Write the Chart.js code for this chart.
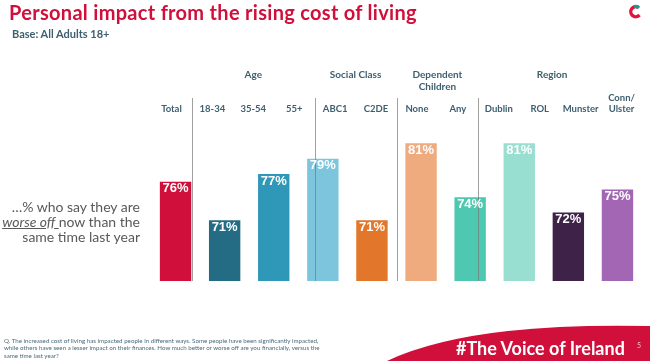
<!DOCTYPE html>
<html>
<head>
<meta charset="utf-8">
<script src="https://cdn.jsdelivr.net/npm/chart.js@4"></script>
<style>
  body { margin: 0; background: #fff; font-family: Lato, "Open Sans", sans-serif; }
  #wrap { position: relative; width: 650px; height: 361px; overflow: hidden; }
  #chartBox { position: absolute; left: 0; top: 0; width: 650px; height: 361px; }
  .title { position: absolute; left: 9px; top: 0px; font-size: 20px; line-height: 24px; font-weight: 700; color: #d0103a; letter-spacing: 0.3px; white-space: nowrap; }
  .base { position: absolute; left: 12px; top: 27px; font-size: 11px; font-weight: 700; color: #3d5f6f; }
  .side { position: absolute; right: 510px; top: 199px; text-align: right; font-size: 14px; line-height: 15px; color: #595959; }
  .side u { font-style: italic; }
  .q { position: absolute; left: 4px; top: 337px; font-size: 6.2px; line-height: 7.4px; color: #4a6a7a; white-space: nowrap; }
  .tag { position: absolute; left: 456px; top: 338px; font-size: 18px; line-height: 21px; font-weight: 700; color: #fff; white-space: nowrap; }
  .pg { position: absolute; left: 637px; top: 341px; font-size: 7px; color: #f3c0c8; }
  svg { position: absolute; left: 0; top: 0; }
</style>
</head>
<body>
<div id="wrap">
  <svg width="650" height="361">
    <path d="M387 361 Q470 322 650 326 L650 361 Z" fill="#d0103a"/>
    <path d="M638.5 7.5 A5 5 0 1 0 639.5 15" fill="none" stroke="#e0143c" stroke-width="3.4"/>
    <path d="M634 6.6 A5 5 0 0 1 639 8" fill="none" stroke="#1e9a8c" stroke-width="3.4"/>
  </svg>
  <div id="chartBox"><canvas id="barchart"></canvas></div>
  <div class="title">Personal impact from the rising cost of living</div>
  <div class="base">Base: All Adults 18+</div>
  <div class="side">…% who say they are<br><u>worse off </u>now than the<br>same time last year</div>
  <div class="q">Q. The increased cost of living has impacted people in different ways. Some people have been significantly impacted,<br>while others have seen a lesser impact on their finances. How much better or worse off are you financially, versus the<br>same time last year?</div>
  <div class="tag">#The Voice of Ireland</div>
  <div class="pg">5</div>
</div>
<script>
// bar values as they appear left to right
var bars = ['b1', 'b2', 'b3', 'b4', 'b5', 'b6', 'b7', 'b8', 'b9', 'b10'];
var values = [76, 71, 77, 79, 71, 81, 74, 81, 72, 75];
var colors = ['#d0103a', '#246c84', '#2f97b7', '#7cc5dc', '#e2762a', '#efaa7e', '#4ec8b0', '#98dfd1', '#3e2248', '#a266b4'];

// column headings along the top
var columns = ['Total', '18-34', '35-54', '55+', 'ABC1', 'C2DE', 'None', 'Any', 'Dublin', 'ROL', 'Munster', ['Conn/', 'Ulster']];
var groups = [
  { label: ['Age'], from: 1, to: 3 },
  { label: ['Social Class'], from: 4, to: 5 },
  { label: ['Dependent', 'Children'], from: 6, to: 7 },
  { label: ['Region'], from: 8, to: 11 }
];
var dividers = [1, 4, 6, 8];

var extras = {
  id: 'extras',
  afterDatasetsDraw: function (chart) {
    var c = chart.ctx, area = chart.chartArea, top = chart.scales.x2;
    c.save();
    // separators between groups
    c.strokeStyle = 'rgba(120,120,120,0.7)';
    c.lineWidth = 1;
    dividers.forEach(function (i) {
      var x = Math.round((top.getPixelForTick(i - 1) + top.getPixelForTick(i)) / 2) + 0.5;
      c.beginPath();
      c.moveTo(x, area.top - 18);
      c.lineTo(x, area.bottom);
      c.stroke();
    });
    // value labels inside bars
    c.fillStyle = '#fff';
    c.font = 'bold 13px "Liberation Sans", Arial, sans-serif';
    c.textAlign = 'center';
    c.textBaseline = 'middle';
    chart.getDatasetMeta(0).data.forEach(function (bar, i) {
      c.fillText(values[i] + '%', bar.x, bar.y + 8);
    });
    // group headings
    c.fillStyle = '#3d5f6f';
    c.font = 'bold 10px Lato, sans-serif';
    groups.forEach(function (g) {
      var x = (top.getPixelForTick(g.from) + top.getPixelForTick(g.to)) / 2;
      if (g.to - g.from > 2) x -= 8;
      g.label.forEach(function (line, k) {
        c.fillText(line, x, 75 + k * 12);
      });
    });
    c.restore();
  }
};

new Chart(document.getElementById('barchart').getContext('2d'), {
  type: 'bar',
  data: {
    labels: bars,
    datasets: [{
      data: values,
      backgroundColor: colors,
      borderColor: 'rgba(255,255,255,0.6)',
      borderWidth: 1,
      barPercentage: 0.68,
      categoryPercentage: 1
    }]
  },
  options: {
    responsive: true,
    maintainAspectRatio: false,
    animation: false,
    layout: { padding: { left: 151, right: 8, top: 90, bottom: 80 } },
    plugins: { legend: { display: false }, tooltip: { enabled: false } },
    scales: {
      x: { display: false, offset: true },
      x2: {
        type: 'category',
        labels: columns,
        position: 'top',
        offset: true,
        grid: { display: false, drawTicks: false },
        border: { display: false },
        ticks: { color: '#3d5f6f', font: { family: 'Lato', size: 9.5, weight: 'bold' }, padding: 1, maxRotation: 0, autoSkip: false },
        afterFit: function (s) { s.height = 26; }
      },
      y: { display: false, min: 63, max: 84.4 }
    }
  },
  plugins: [extras]
});
</script>
</body>
</html>
